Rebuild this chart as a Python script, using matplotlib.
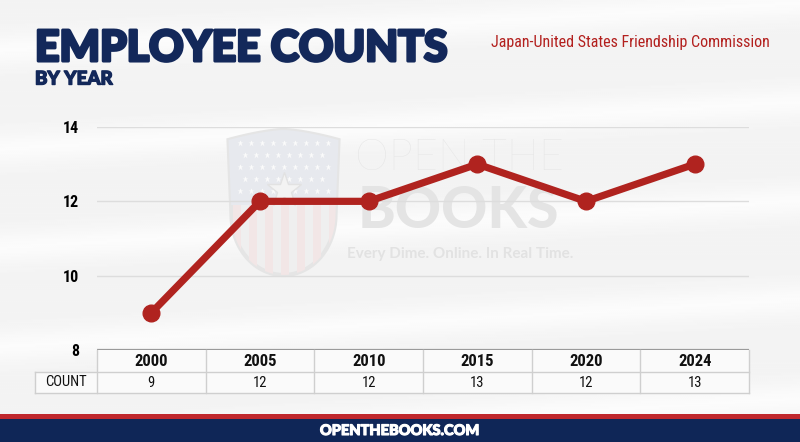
import matplotlib
matplotlib.use("Agg")
import matplotlib.pyplot as plt
import numpy as np
from matplotlib.patches import Rectangle, Polygon
from matplotlib import font_manager as fm
import matplotlib.patheffects as pe

years = ["2000", "2005", "2010", "2015", "2020", "2024"]
counts = [9, 12, 12, 13, 12, 13]
yticks = [8, 10, 12, 14]
title = "EMPLOYEE COUNTS"
subtitle = "BY YEAR"
agency = "Japan-United States Friendship Commission"
row_label = "COUNT"
footer = "OPENTHEBOOKS.COM"

names = {f.name for f in fm.fontManager.ttflist}
def pick(*c):
    for n in c:
        if n in names:
            return n
    return "DejaVu Sans"
narrow = pick("Liberation Sans Narrow", "Roboto Condensed", "DejaVu Sans")
heavy = pick("Lato", "Roboto", "Open Sans")

W, H = 800, 442
fig = plt.figure(figsize=(8, 4.42), dpi=100)
fig.patch.set_facecolor("#f4f4f4")

# background soft gradient
bg = fig.add_axes([0, 0, 1, 1], zorder=-10)
yy = np.linspace(0, 1, 300)[:, None]
xx = np.linspace(0, 1, 400)[None, :]
img = 0.955 + 0.03 * np.sin(yy * 14 + xx * 1.5) ** 8 + 0.0 * xx
bg.imshow(img, cmap="gray", vmin=0, vmax=1, aspect="auto", extent=[0, 1, 0, 1])
bg.set_axis_off()

def fx(px):
    return px / W
def fy(py):
    return 1 - py / H

# watermark layer (pixel coordinates)
wax = fig.add_axes([0, 0, 1, 1], zorder=-5)
wax.set_xlim(0, W)
wax.set_ylim(H, 0)
wax.set_axis_off()
wax.patch.set_alpha(0)
cx = 283.5
s1 = np.linspace(0, 1, 20)
top_r = [(cx + 55 * s, 130 + 10 * s ** 1.5) for s in s1]
side_r = [(cx + 55 - 3 * s, 140 + 75 * s) for s in np.linspace(0, 1, 10)[1:]]
s2 = np.linspace(0, 1, 25)[1:]
curve_r = [(cx + 52 - 52 * (1 - np.cos(np.pi / 2 * s)), 215 + 60 * np.sin(np.pi / 2 * s)) for s in s2]
right_half = top_r + side_r + curve_r
left_half = [(2 * cx - px, py) for (px, py) in reversed(right_half)]
shield_pts = right_half + left_half[1:]
shield = Polygon(shield_pts, closed=True, facecolor="#efefef", edgecolor="#e5e5e5", lw=3)
wax.add_patch(shield)
union_clip = Polygon(shield_pts, closed=True, transform=wax.transData)
blue = Rectangle((220, 120), 130, 85, facecolor="#e7e9ee", edgecolor="none")
wax.add_patch(blue)
blue.set_clip_path(union_clip)
for k in range(7):
    r = Rectangle((233 + k * 16, 205), 8, 80, facecolor="#f2e6e6", edgecolor="none")
    wax.add_patch(r)
    r.set_clip_path(union_clip)
for row in range(5):
    for col in range(9):
        sx = 240 + col * 11 + (5 if row % 2 else 0)
        sy = 143 + row * 12
        if sx < 333:
            s = wax.plot(sx, sy, marker="*", ms=5, color="#fbfbfb", mec="none")[0]
            s.set_clip_path(union_clip)
wax.plot(cx, 190, marker="*", ms=26, color="#f3f3f3", mec="#e2e2e2", mew=1)

wax.text(459, 158, "OPEN THE", fontsize=31, color="#e4e4e4", family=heavy,
         va="center", ha="center", fontweight="light")
wax.text(458, 211, "BOOKS", fontsize=41, color="#e4e4e4", family=heavy,
         va="center", ha="center", fontweight="black")
wax.text(460, 254, "Every Dime. Online. In Real Time.", fontsize=11,
         color="#e2e2e2", family=heavy, fontweight="bold", va="center", ha="center")

navy = "#13285a"
fig.text(fx(35), fy(48), title, fontsize=30.7, fontweight="black", family=heavy,
         color=navy, va="center", ha="left",
         path_effects=[pe.withStroke(linewidth=2.2, foreground=navy)])
fig.text(fx(35), fy(79), subtitle, fontsize=13.5, fontweight="black", family=heavy,
         color=navy, va="center", ha="left",
         path_effects=[pe.withStroke(linewidth=1.0, foreground=navy)])
fig.text(fx(630), fy(43), agency, fontsize=11.5, family=narrow, color="#b3201e",
         va="center", ha="center")

# main axes
left, right = 97, 749
top, bottom = 127, 350
ax = fig.add_axes([fx(left), fy(bottom), (right - left) / W, (bottom - top) / H])
ax.patch.set_alpha(0)
x = np.arange(len(years))
ax.set_xlim(-0.5, len(years) - 0.5)
ax.set_ylim(8, 14)
for tk in yticks:
    ax.axhline(tk, color="#dddddd" if tk != 8 else "#9a9a9a", lw=1.0 if tk != 8 else 1.6, zorder=1)
ax.plot(x, counts, color="#b0231f", lw=5.2, marker="o", ms=12, zorder=3,
        solid_capstyle="round")
ax.set_yticks(yticks)
ax.set_yticklabels([str(v) for v in yticks], fontsize=11.5, fontweight="bold", family=narrow)
ax.tick_params(axis="y", length=0, pad=13)
ax.set_xticks([])
for s in ax.spines.values():
    s.set_visible(False)

# table
tb_top, tb_mid, tb_bot = 350, 372, 393
tax = fig.add_axes([fx(left), fy(tb_bot), (right - left) / W, (tb_bot - tb_top) / H])
tax.set_xlim(-0.5, len(years) - 0.5)
tax.set_ylim(0, 2)
tax.set_axis_off()
lab_w = (97 - 35) / ((right - left) / len(years))
tax.add_patch(Rectangle((-0.5, 0), len(years), 2, facecolor="#fafafa", edgecolor="none",
                        clip_on=False, zorder=0))
tax.add_patch(Rectangle((-0.5 - lab_w, 0), lab_w, 1, facecolor="#fafafa", edgecolor="none",
                        clip_on=False, zorder=0))
lc = "#cfcfcf"
for i in range(len(years) + 1):
    tax.plot([i - 0.5, i - 0.5], [0, 2], color=lc, lw=1, clip_on=False)
tax.plot([-0.5 - lab_w, len(years) - 0.5], [1, 1], color=lc, lw=1, clip_on=False)
tax.plot([-0.5 - lab_w, len(years) - 0.5], [0, 0], color=lc, lw=1, clip_on=False)
tax.plot([-0.5 - lab_w, -0.5 - lab_w], [0, 1], color=lc, lw=1, clip_on=False)
for i, (yr, c) in enumerate(zip(years, counts)):
    tax.text(i, 1.45, yr, ha="center", va="center", fontsize=12, fontweight="bold",
             family=narrow, color="#111111")
    tax.text(i, 0.45, str(c), ha="center", va="center", fontsize=10.5, family=narrow,
             color="#111111")
tax.text(-0.5 - lab_w / 2, 0.5, row_label, ha="center", va="center", fontsize=10.5,
         family=narrow, color="#111111", clip_on=False)

# footer
fax = fig.add_axes([0, 0, 1, 1], zorder=5)
fax.set_xlim(0, W)
fax.set_ylim(H, 0)
fax.set_axis_off()
fax.patch.set_alpha(0)
fax.add_patch(Rectangle((0, 414), W, 5, facecolor="#c0282d", edgecolor="none"))
fax.add_patch(Rectangle((0, 419), W, 23, facecolor="#0f2657", edgecolor="none"))
fax.text(400, 431, footer, ha="center", va="center", fontsize=10.5, fontweight="black",
         family=heavy, color="white",
         path_effects=[pe.withStroke(linewidth=0.8, foreground="white")])

fig.savefig("out.png", dpi=100, facecolor=fig.get_facecolor())
